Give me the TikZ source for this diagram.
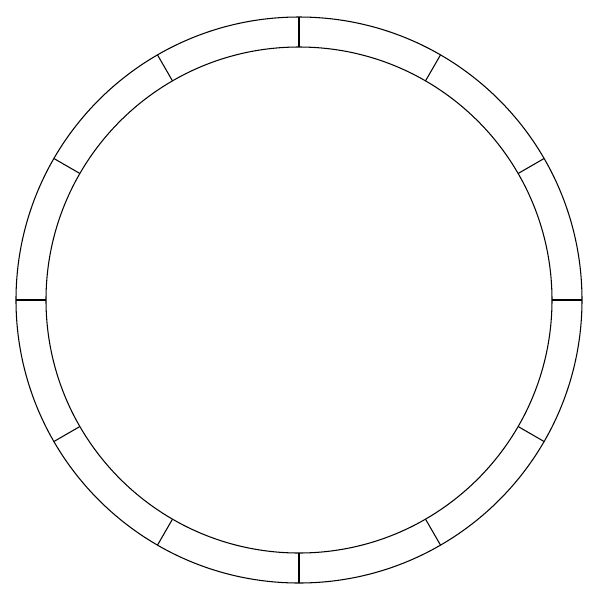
\documentclass[tikz,border=0pt]{standalone}
\begin{document}
\begin{tikzpicture}[x=0.02cm,y=-0.02cm]
	\useasboundingbox (0,0) rectangle (600,600);
	\begin{scope}[shift={(299,300)}]
	\draw [black, line width=0.6pt] (0,0) circle [radius=283];
	\draw [black, line width=0.6pt] (0,0) circle [radius=253];
	\foreach \a in {0,30,...,330}
		\draw [black, line width=0.6pt] (\a:253) -- (\a:283);
	\end{scope}
\end{tikzpicture}
\end{document}
